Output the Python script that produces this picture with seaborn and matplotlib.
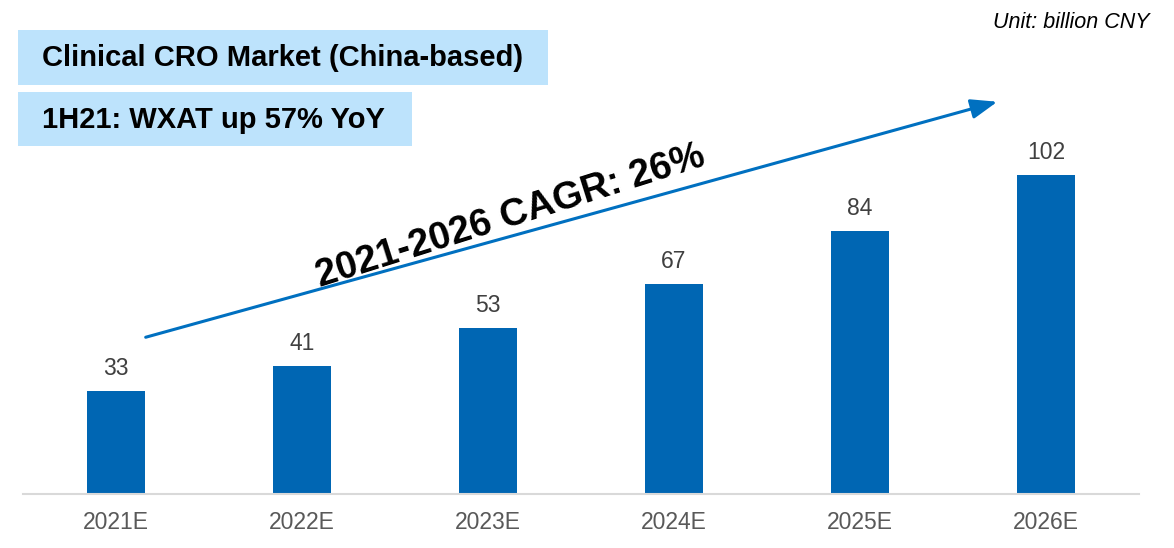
import matplotlib
matplotlib.use("Agg")
import matplotlib.pyplot as plt
import seaborn as sns
import pandas as pd
from matplotlib.patches import Rectangle

categories = ["2021E", "2022E", "2023E", "2024E", "2025E", "2026E"]
values = [33, 41, 53, 67, 84, 102]
title_text = "Clinical CRO Market (China-based)"
subtitle_text = "1H21: WXAT up 57% YoY"
cagr_text = "2021-2026 CAGR: 26%"
unit_text = "Unit: billion CNY"

sns.set_theme(style="white")
plt.rcParams['font.family'] = ['Liberation Sans', 'DejaVu Sans']

W, H = 1174, 548
fig = plt.figure(figsize=(W / 100, H / 100), dpi=100)

def fx(px):
    return px / W

def fy(py):
    return 1 - py / H

ax = fig.add_axes([fx(23), fy(494), fx(1116), (494 - 10) / H])
df = pd.DataFrame({"cat": categories, "val": values})
sns.barplot(data=df, x="cat", y="val", color="#0066B3", width=0.31,
            saturation=1, ax=ax, edgecolor="none")
ax.set_ylim(0, 484 / 3.13)
ax.set_xlim(-0.5, len(categories) - 0.5)
ax.set_xlabel("")
ax.set_ylabel("")
ax.set_yticks([])
for s in ["top", "right", "left"]:
    ax.spines[s].set_visible(False)
ax.spines["bottom"].set_color("#D9D9D9")
ax.spines["bottom"].set_linewidth(1.5)
ax.tick_params(axis="x", length=0, pad=12, labelsize=16.5, labelcolor="#595959")

for i, v in enumerate(values):
    ax.annotate(str(v), (i, v), xytext=(0, 8), textcoords="offset points",
                ha="center", va="bottom", fontsize=16.5, color="#404040")

# title boxes
fig.patches.append(Rectangle((fx(18), fy(85)), fx(548 - 18), (85 - 30) / H,
                             transform=fig.transFigure, facecolor="#BDE3FC",
                             edgecolor="none", zorder=0))
fig.patches.append(Rectangle((fx(18), fy(146)), fx(412 - 18), (146 - 92) / H,
                             transform=fig.transFigure, facecolor="#BDE3FC",
                             edgecolor="none", zorder=0))
fig.text(fx(42), fy(58), title_text, fontsize=21, fontweight="bold",
         color="black", ha="left", va="center")
fig.text(fx(42), fy(120), subtitle_text, fontsize=21, fontweight="bold",
         color="black", ha="left", va="center")

fig.text(fx(1150), fy(22), unit_text, fontsize=15.5, fontstyle="italic",
         color="black", ha="right", va="center")

# CAGR arrow and text
fig.add_artist(matplotlib.patches.FancyArrowPatch(
    (fx(143), fy(338)), (fx(1000), fy(101)), transform=fig.transFigure,
    arrowstyle="-|>,head_length=16,head_width=6", color="#0070C0",
    linewidth=2.2, mutation_scale=1))
fig.text(fx(510), fy(216), cagr_text, fontsize=27.5, fontweight="bold",
         color="black", ha="center", va="center", rotation=17.5,
         rotation_mode="anchor")

fig.savefig("out.png", dpi=100)
